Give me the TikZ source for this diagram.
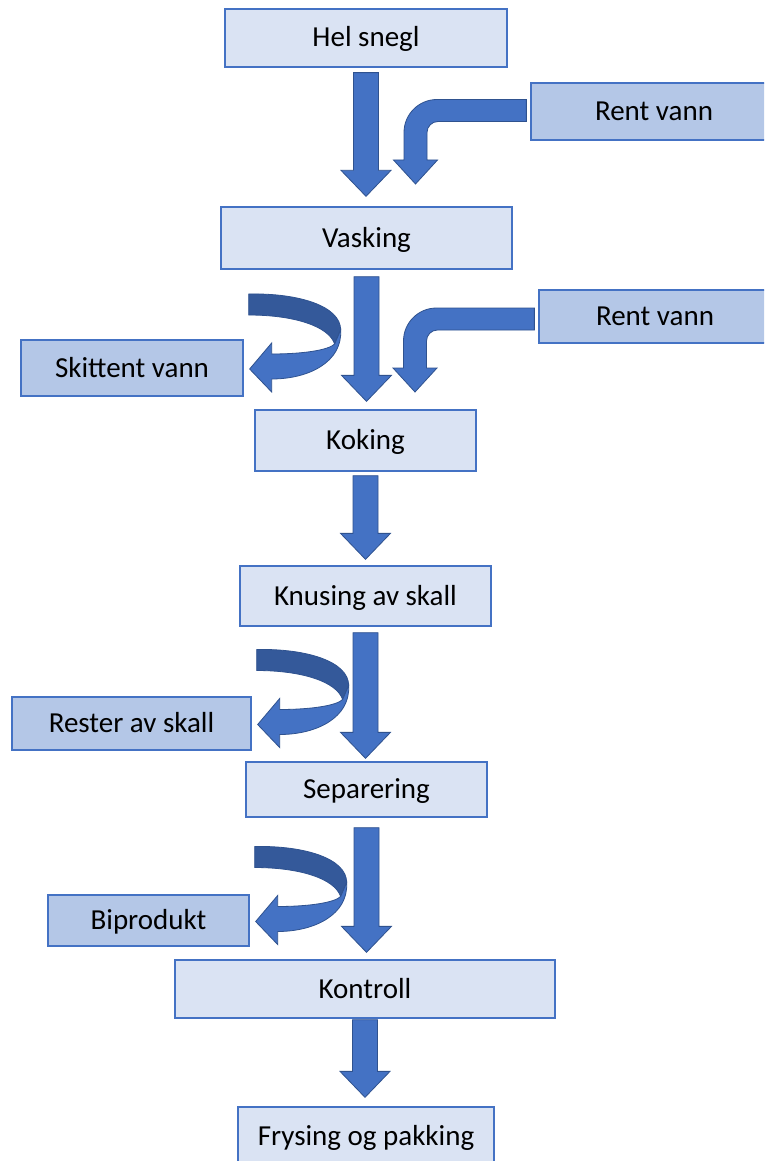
\documentclass[tikz,border=0pt]{standalone}
\usepackage{fontspec}
\setmainfont{Carlito}
\usetikzlibrary{calc}

\definecolor{boxlight}{HTML}{DAE3F3}
\definecolor{boxdark}{HTML}{B4C7E7}
\definecolor{accent}{HTML}{4472C4}
\definecolor{accentdk}{HTML}{2F528F}
\definecolor{bandback}{HTML}{34599A}

\tikzset{
  stage/.style={draw=accent, line width=1.3pt, fill=boxlight, inner sep=0pt,
    font=\fontsize{29}{34}\selectfont, text=black, text height=23pt, text depth=5pt},
  side/.style={stage, fill=boxdark},
  flow/.style={fill=accent, draw=accentdk, line width=0.8pt, line join=miter},
  flowback/.style={fill=bandback, draw=accentdk, line width=0.8pt},
}

% straight block arrow between two stages: #3/#4 = gaps at top/bottom
\newcommand\flowdown[4]{%
  \path[flow] let \p1=(#1.south), \p2=(#2.north) in
    (\x1-12.5pt,\y1-#3pt) -- (\x1+12.5pt,\y1-#3pt)
    -- (\x1+12.5pt,\y2+#4pt+26pt) -- (\x1+25pt,\y2+#4pt+26pt)
    -- (\x1,\y2+#4pt) -- (\x1-25pt,\y2+#4pt+26pt)
    -- (\x1-12.5pt,\y2+#4pt+26pt) -- cycle;}

% bent block arrow from a side input down to a tip: #3 = shaft shift
\newcommand\flowbent[3]{%
  \path[flow] let \p1=($(#1.west)+(0,#3)$), \p2=(#2) in
    (\x1-4pt,\y1+11pt) -- (\x2+21.5pt,\y1+11pt)
    arc[start angle=90,end angle=180,radius=33pt]
    -- (\x2-11.5pt,\y2+24pt) -- (\x2-22pt,\y2+24pt) -- (\x2,\y2)
    -- (\x2+22pt,\y2+24pt) -- (\x2+11.5pt,\y2+24pt)
    -- (\x2+11.5pt,\y1-22pt)
    arc[start angle=180,end angle=90,radius=11pt]
    -- (\x1-4pt,\y1-11pt) -- cycle;}

% U-turn block arrow ending at the east side of an output box
\newcommand\flowuturn[1]{%
  \begin{scope}[shift={($(#1.east)+(5,74)$)}]
    \path[flowback] (0,0) .. controls (50,1) and (92,-12) .. (92,-36)
      -- (86,-50) .. controls (80,-32) and (45,-21) .. (0,-21) -- cycle;
    \path[flow] (92,-36) .. controls (94,-68) and (60,-85) .. (23,-85)
      -- (23,-98) -- (1,-75) -- (23,-49) -- (23,-60)
      .. controls (55,-60) and (80,-56) .. (86,-50) -- cycle;
  \end{scope}}

\begin{document}
\begin{tikzpicture}[x=1pt,y=1pt]
  \clip (0,0) rectangle (764,-1161);
  \fill[white] (0,0) rectangle (764,-1161);

  % main process chain
  \node[stage, minimum width=282pt, minimum height=58pt] (hel)  at (366,-38)    {Hel snegl};
  \node[stage, minimum width=291pt, minimum height=62pt] (vask) at (366.5,-238) {Vasking};
  \node[stage, minimum width=221pt, minimum height=61pt] (kok)  at (365.5,-440.5) {Koking};
  \node[stage, minimum width=251pt, minimum height=60pt] (knus) at (365.5,-596) {Knusing av skall};
  \node[stage, minimum width=241pt, minimum height=55pt] (sep)  at (366.5,-789.5) {Separering};
  \node[stage, minimum width=380pt, minimum height=58pt] (kont) at (365,-989)   {Kontroll};
  \node[stage, minimum width=256pt, minimum height=58pt] (frys) at (366,-1136)  {Frysing og pakking};

  % inputs and outputs
  \node[side, minimum width=246pt, minimum height=57pt] (rent1) at (654,-111.5) {Rent vann};
  \node[side, minimum width=232pt, minimum height=53pt] (rent2) at (655,-316.5) {Rent vann};
  \node[side, minimum width=222pt, minimum height=56pt] (skit)  at (132,-368)   {Skittent vann};
  \node[side, minimum width=239pt, minimum height=53pt] (rest)  at (131.5,-723.5) {Rester av skall};
  \node[side, minimum width=201pt, minimum height=51pt] (bip)   at (148.5,-920.5) {Biprodukt};

  % main flow
  \flowdown{hel}{vask}{5}{10}
  \flowdown{vask}{kok}{7}{8}
  \flowdown{kok}{knus}{4}{6}
  \flowdown{knus}{sep}{6}{3}
  \flowdown{sep}{kont}{10}{7}
  \flowdown{kont}{frys}{1}{9}

  % water inlets
  \coordinate (w1) at (415.5,-184);
  \coordinate (w2) at (415,-392);
  \flowbent{rent1}{w1}{1}
  \flowbent{rent2}{w2}{-2.5}

  % side streams
  \flowuturn{skit}
  \flowuturn{rest}
  \flowuturn{bip}
\end{tikzpicture}
\end{document}
